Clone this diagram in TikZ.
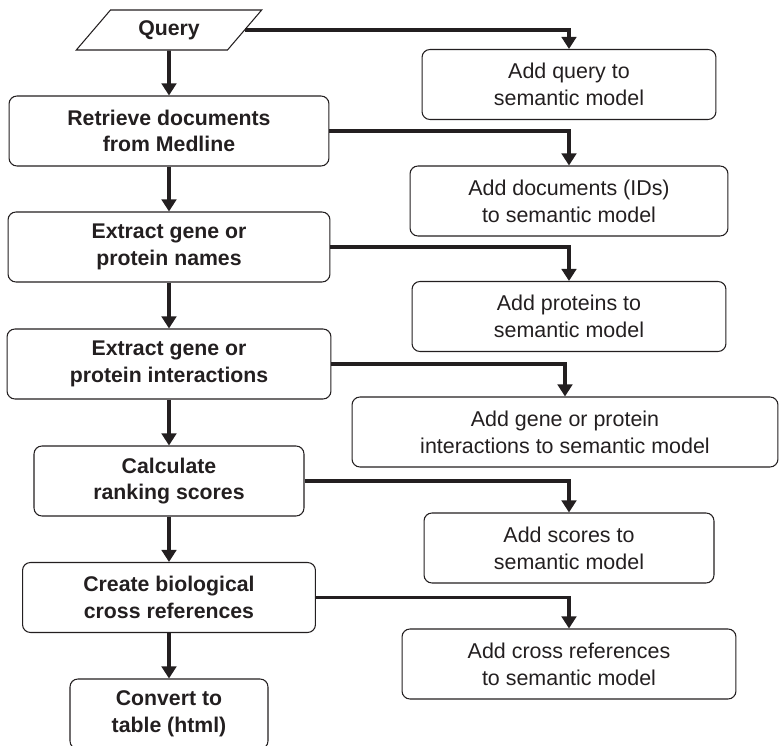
\documentclass[tikz,border=0pt]{standalone}
\usepackage{fontspec}
\setmainfont{Liberation Sans}
\usetikzlibrary{arrows.meta,shapes.geometric}
\definecolor{flowink}{HTML}{231F20}
\tikzset{
  stepbox/.style={draw=flowink, rounded corners=4.5pt, line width=.6pt,
    font=\fontsize{12.1}{15.2}\selectfont\bfseries, text=flowink, align=center,
    inner sep=0pt, minimum height=1.4cm},
  modelbox/.style={draw=flowink, rounded corners=4.5pt, line width=.6pt,
    font=\fontsize{12.2}{15.2}\selectfont, text=flowink, align=center,
    inner sep=0pt, minimum height=1.4cm},
  inputbox/.style={draw=flowink, trapezium, trapezium left angle=47,
    trapezium right angle=133, trapezium stretches=true, line width=.6pt,
    font=\fontsize{12.1}{15.2}\selectfont\bfseries, text=flowink,
    inner sep=0pt, minimum width=3.72cm, minimum height=.8cm},
  flowarrow/.style={-{Triangle[length=2.4mm,width=2.9mm]}, draw=flowink,
    line width=2pt}
}
\begin{document}
\begin{tikzpicture}[x=.02cm,y=-.02cm]
  % Pipeline steps on the left, semantic model updates on the right.
  \useasboundingbox (0,0) rectangle (779,746);
  \node[inputbox] (query) at (169,30) {Query};
  \node[stepbox, minimum width=6.4cm] (retrieve) at (169,131) {Retrieve documents\\from Medline};
  \node[stepbox, minimum width=6.44cm] (extractnames) at (169,247) {Extract gene or\\protein names};
  \node[stepbox, minimum width=6.48cm] (extractinter) at (169,364) {Extract gene or\\protein interactions};
  \node[stepbox, minimum width=5.4cm] (calc) at (169,481) {Calculate\\ranking scores};
  \node[stepbox, minimum width=5.86cm] (crossref) at (169,597.5) {Create biological\\cross references};
  \node[stepbox, minimum width=3.96cm] (convert) at (169,714) {Convert to\\table (html)};

  \node[modelbox, minimum width=5.88cm] (addquery) at (569,84.5) {Add query to\\semantic model};
  \node[modelbox, minimum width=6.36cm] (adddocs) at (569,201) {Add documents (IDs)\\to semantic model};
  \node[modelbox, minimum width=6.28cm] (addproteins) at (569,316.5) {Add proteins to\\semantic model};
  \node[modelbox, minimum width=8.52cm] (addinter) at (565,432) {Add gene or protein\\interactions to semantic model};
  \node[modelbox, minimum width=5.8cm] (addscores) at (569,548) {Add scores to\\semantic model};
  \node[modelbox, minimum width=6.68cm] (addcross) at (569,664) {Add cross references\\to semantic model};

  % main chain
  \draw[flowarrow] (query.south) -- (retrieve.north);
  \draw[flowarrow] (retrieve) -- (extractnames);
  \draw[flowarrow] (extractnames) -- (extractinter);
  \draw[flowarrow] (extractinter) -- (calc);
  \draw[flowarrow] (calc) -- (crossref);
  \draw[flowarrow] (crossref) -- (convert);

  % side branches
  \draw[flowarrow] (query.east) -| (addquery.north);
  \draw[flowarrow] (retrieve.east) -| (adddocs.north);
  \draw[flowarrow] (extractnames.east) -| (addproteins.north);
  \draw[flowarrow] (extractinter.east) -| (addinter.north);
  \draw[flowarrow] (calc.east) -| (addscores.north);
  \draw[flowarrow] (crossref.east) -| (addcross.north);
\end{tikzpicture}
\end{document}
